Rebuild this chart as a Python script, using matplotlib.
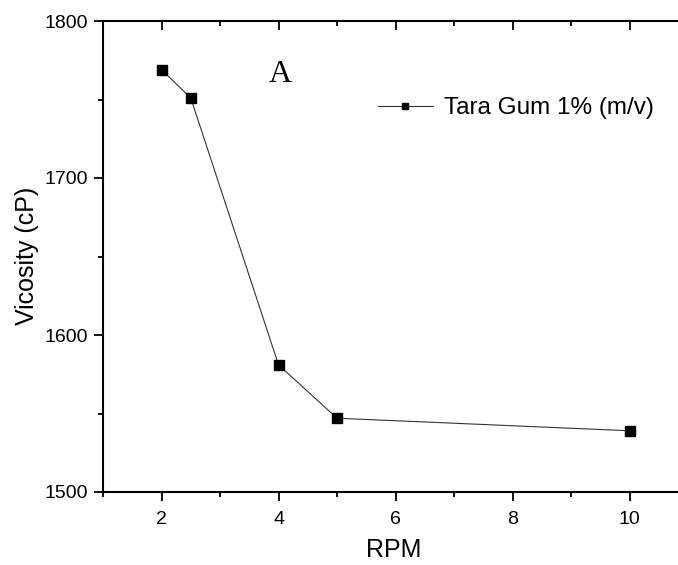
import matplotlib
matplotlib.use("Agg")
import matplotlib.pyplot as plt
from matplotlib.ticker import MultipleLocator

rpm = [2, 2.5, 4, 5, 10]
viscosity = [1769, 1751, 1581, 1547, 1539]
series_label = "Tara Gum 1% (m/v)"
x_ticks = [2, 4, 6, 8, 10]
y_ticks = [1500, 1600, 1700, 1800]

plt.rcParams['font.family'] = ['Liberation Sans', 'DejaVu Sans']

fig = plt.figure(figsize=(6.78, 5.65), dpi=100)
L, R, B, T = 103, 688, 492, 21
W, H = R - L, B - T
ax = fig.add_axes([L / 678, 1 - B / 565, W / 678, H / 565])

ax.plot(rpm, viscosity, color='#333333', lw=0.8, marker='s', markersize=7.5,
        markerfacecolor='black', markeredgecolor='black', label=series_label)

ax.set_xlim(1, 11)
ax.set_ylim(1500, 1800)
ax.set_xticks(x_ticks)
ax.set_yticks(y_ticks)
ax.xaxis.set_minor_locator(MultipleLocator(1))
ax.yaxis.set_minor_locator(MultipleLocator(50))

ax.tick_params(axis='both', which='major', direction='out', length=6.5, width=1.3,
               labelsize=14, colors='black')
ax.tick_params(axis='both', which='minor', direction='out', length=3.5, width=1.3)
ax.tick_params(axis='x', which='major', pad=7)
ax.tick_params(axis='y', which='major', pad=4)
ax.tick_params(axis='x', which='both', top=True)
for t in ax.xaxis.get_major_ticks():
    t.tick2line.set_marker(3)  # inward from top
for t in ax.xaxis.get_minor_ticks():
    t.tick2line.set_marker(3)
for s in ax.spines.values():
    s.set_linewidth(1.5)

ax.set_xlabel("RPM", fontsize=18)
ax.set_ylabel("Vicosity (cP)", fontsize=18)
ax.xaxis.label.set_va('center')
ax.yaxis.label.set_va('center')
ax.xaxis.set_label_coords((394 - L) / W, (B - 550) / H)
ax.yaxis.set_label_coords((27 - L) / W, (B - 256) / H)

ax.text((280 - L) / W, (B - 75) / H, "A", fontsize=23, family='Liberation Serif',
        transform=ax.transAxes, ha='center', va='center')

ax.legend(loc='center left', bbox_to_anchor=((378 - L) / W, (B - 108) / H),
          frameon=False, fontsize=17.5, handlelength=2.25, handletextpad=0.45,
          borderaxespad=0, borderpad=0, markerscale=0.6)

fig.savefig("out.png", dpi=100, facecolor='white')
